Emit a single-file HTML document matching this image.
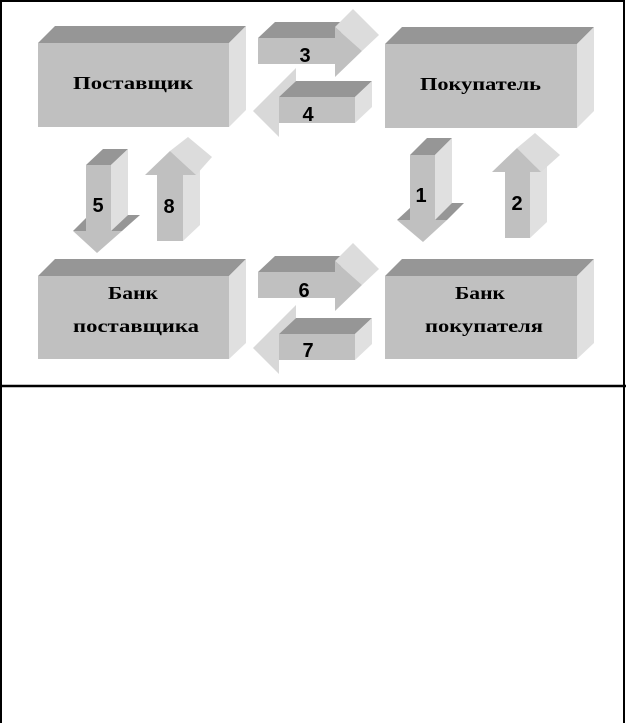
<!DOCTYPE html>
<html><head><meta charset="utf-8"><style>
html,body{margin:0;padding:0;background:#fff;}
svg{display:block;}
.l{font-family:"Liberation Serif",serif;font-weight:bold;font-size:18px;text-anchor:start;}
.n{font-family:"Liberation Sans",sans-serif;font-weight:bold;font-size:20px;text-anchor:middle;}
</style></head><body>
<svg width="626" height="723" viewBox="0 0 626 723" xmlns="http://www.w3.org/2000/svg">
<rect x="0" y="0" width="626" height="723" fill="#fff"/>
<rect x="1" y="1" width="623" height="740" fill="none" stroke="#000" stroke-width="2"/>
<line x1="0" y1="386" x2="626" y2="386" stroke="#000" stroke-width="2.5"/>

<g>
<polygon points="38,43 55,26 246,26 229,43" fill="#969696"/>
<polygon points="229,43 246,26 246,110 229,127" fill="#e0e0e0"/>
<rect x="38" y="43" width="191" height="84" fill="#c0c0c0"/>
<text class="l" x="73" y="89" textLength="120" lengthAdjust="spacingAndGlyphs">Поставщик</text>
</g>
<g>
<polygon points="385,44 402,27 594,27 577,44" fill="#969696"/>
<polygon points="577,44 594,27 594,111 577,128" fill="#e0e0e0"/>
<rect x="385" y="44" width="192" height="84" fill="#c0c0c0"/>
<text class="l" x="420" y="90" textLength="121" lengthAdjust="spacingAndGlyphs">Покупатель</text>
</g>
<g>
<polygon points="38,276 55,259 246,259 229,276" fill="#969696"/>
<polygon points="229,276 246,259 246,343 229,359" fill="#e0e0e0"/>
<rect x="38" y="276" width="191" height="83" fill="#c0c0c0"/>
<text class="l" x="108" y="299" textLength="50" lengthAdjust="spacingAndGlyphs">Банк</text>
<text class="l" x="73" y="332" textLength="126" lengthAdjust="spacingAndGlyphs">поставщика</text>
</g>
<g>
<polygon points="385,276 402,259 594,259 577,276" fill="#969696"/>
<polygon points="577,276 594,259 594,343 577,359" fill="#e0e0e0"/>
<rect x="385" y="276" width="192" height="83" fill="#c0c0c0"/>
<text class="l" x="455" y="299" textLength="50" lengthAdjust="spacingAndGlyphs">Банк</text>
<text class="l" x="425" y="332" textLength="118" lengthAdjust="spacingAndGlyphs">покупателя</text>
</g>

<g>
<polygon points="258,38 275,22 352,22 335,38" fill="#969696"/>
<rect x="258" y="38" width="77" height="26" fill="#c0c0c0"/>
<polygon points="335,27 353,9 379,35 362,51" fill="#dcdcdc"/>
<polygon points="335,27 362,51 335,77" fill="#c0c0c0"/>
</g>
<text class="n" x="305" y="62">3</text>
<g transform="translate(0,234)">
<polygon points="258,38 275,22 352,22 335,38" fill="#969696"/>
<rect x="258" y="38" width="77" height="26" fill="#c0c0c0"/>
<polygon points="335,27 353,9 379,35 362,51" fill="#dcdcdc"/>
<polygon points="335,27 362,51 335,77" fill="#c0c0c0"/>
</g>
<text class="n" x="304" y="297">6</text>

<g>
<polygon points="253,111 296,68 296,81 279,97 279,137" fill="#d8d8d8"/>
<polygon points="279,97 296,81 372,81 355,97" fill="#969696"/>
<polygon points="355,97 372,81 372,107 355,123" fill="#e0e0e0"/>
<rect x="279" y="97" width="76" height="26" fill="#c0c0c0"/>
</g>
<text class="n" x="308" y="121">4</text>
<g transform="translate(0,237)">
<polygon points="253,111 296,68 296,81 279,97 279,137" fill="#d8d8d8"/>
<polygon points="279,97 296,81 372,81 355,97" fill="#969696"/>
<polygon points="355,97 372,81 372,107 355,123" fill="#e0e0e0"/>
<rect x="279" y="97" width="76" height="26" fill="#c0c0c0"/>
</g>
<text class="n" x="308" y="357">7</text>

<g>
<polygon points="86,165 103,149 128,149 111,165" fill="#969696"/>
<polygon points="111,165 128,149 128,215 111,231" fill="#e0e0e0"/>
<rect x="86" y="165" width="25" height="66" fill="#c0c0c0"/>
<polygon points="73,231 86,218 86,231" fill="#969696"/>
<polygon points="111,231 128,215 140,215 122,231" fill="#969696"/>
<polygon points="73,231 97,253 122,231" fill="#c0c0c0"/>
</g>
<text class="n" x="98" y="212">5</text>
<g>
<polygon points="410,155 427,138 452,138 435,155" fill="#969696"/>
<polygon points="435,155 452,138 452,204 435,220" fill="#e0e0e0"/>
<rect x="410" y="155" width="25" height="65" fill="#c0c0c0"/>
<polygon points="397,220 410,208 410,220" fill="#969696"/>
<polygon points="435,220 452,203 464,203 447,220" fill="#969696"/>
<polygon points="397,220 423,242 447,220" fill="#c0c0c0"/>
</g>
<text class="n" x="421" y="202">1</text>

<g>
<polygon points="183,175 200,159 200,225 183,241" fill="#e0e0e0"/>
<rect x="157" y="175" width="26" height="66" fill="#c0c0c0"/>
<polygon points="170,151 188,137 212,157 196,175" fill="#dcdcdc"/>
<polygon points="145,175 170,151 196,175" fill="#c0c0c0"/>
</g>
<text class="n" x="169" y="213">8</text>
<g>
<polygon points="530,172 547,156 547,222 530,238" fill="#e0e0e0"/>
<rect x="505" y="172" width="25" height="66" fill="#c0c0c0"/>
<polygon points="517,148 535,133 560,155 541,172" fill="#dcdcdc"/>
<polygon points="492,172 517,148 541,172" fill="#c0c0c0"/>
</g>
<text class="n" x="517" y="210">2</text>
</svg>
</body></html>
